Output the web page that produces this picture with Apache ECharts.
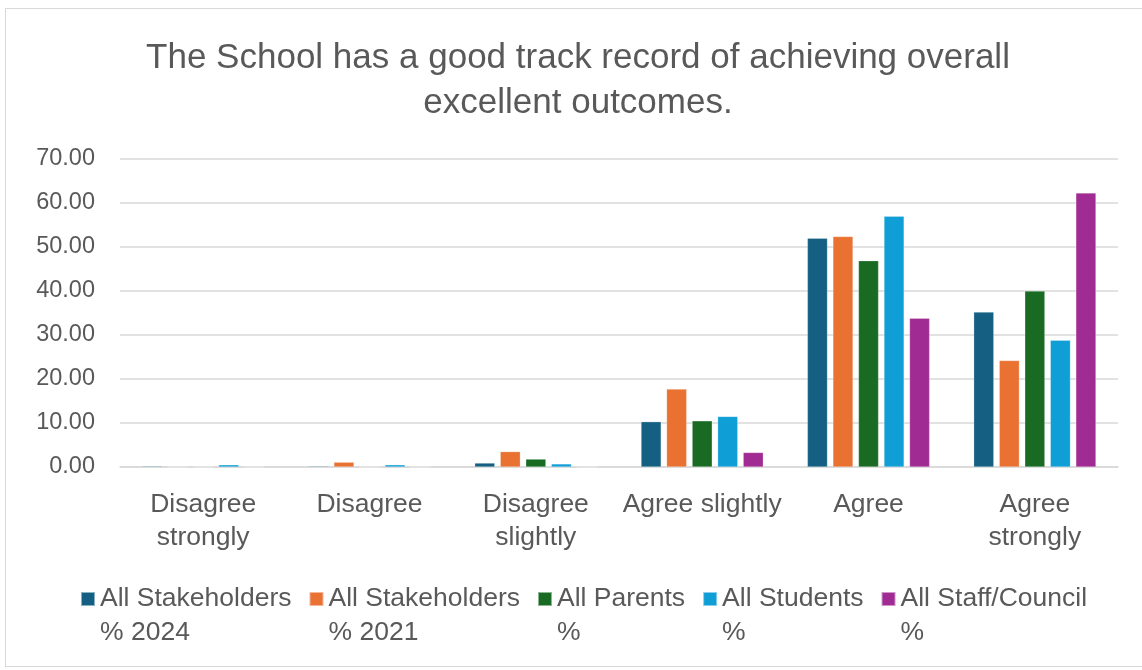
<!DOCTYPE html>
<html>
<head>
<meta charset="utf-8">
<script src="https://cdn.jsdelivr.net/npm/echarts@6/dist/echarts.min.js"></script>
<style>
  html, body { margin: 0; padding: 0; background: #ffffff; }
  #frame { position: absolute; left: 5px; top: 8px; width: 1137px; height: 659px; border: 1.5px solid #d9d9d9; border-right: none; box-sizing: border-box; }
  #chart { position: absolute; left: 0; top: 0; width: 1142px; height: 670px; }
</style>
</head>
<body>
<div id="frame"></div>
<div id="chart"></div>
<script>
// Response categories along the x axis
const categories = ['Disagree\nstrongly', 'Disagree', 'Disagree\nslightly', 'Agree slightly', 'Agree', 'Agree\nstrongly'];

// Share of respondents (%) per group
const stakeholders2024 = [0.2, 0.2, 0.9, 10.3, 52.0, 35.2];
const stakeholders2021 = [0.0, 1.1, 3.5, 17.7, 52.4, 24.2];
const parents         = [0.0, 0.0, 1.8, 10.5, 46.9, 40.0];
const students        = [0.5, 0.5, 0.7, 11.5, 57.0, 28.8];
const staffCouncil    = [0.0, 0.0, 0.0, 3.3, 33.8, 62.3];

const seriesNames = ['All Stakeholders\n% 2024', 'All Stakeholders\n% 2021', 'All Parents\n%', 'All Students\n%', 'All Staff/Council\n%'];
const seriesData = [stakeholders2024, stakeholders2021, parents, students, staffCouncil];
const colors = ['#156082', '#E97132', '#196B24', '#0F9ED5', '#A02B93'];

// Y axis range and ticks
const yMin = 0, yMax = 70, yStep = 10;

const font = "'Liberation Sans', Arial, sans-serif";
const textColor = '#595959';
const gridColor = '#d9d9d9';

// Legend swatch: a 14px square at the top of a two-line-tall item box
// (the hairline speck at the bottom only stretches the path bounds)
const swatch = 'path://M0,0h14v14h-14z M0,47.99h0.01v0.01h-0.01z';

const chart = echarts.init(document.getElementById('chart'), null, { renderer: 'canvas' });

chart.setOption({
  animation: false,
  color: colors,
  title: {
    text: 'The School has a good track record of achieving overall\nexcellent outcomes.',
    left: 573,
    top: 31,
    textAlign: 'center',
    textStyle: { fontFamily: font, fontSize: 35, fontWeight: 'normal', color: textColor, lineHeight: 45 }
  },
  legend: {
    left: 75,
    top: 577,
    itemWidth: 14,
    itemHeight: 48,
    itemGap: 17,
    icon: swatch,
    textStyle: { fontFamily: font, fontSize: 26.5, color: textColor, lineHeight: 34 },
    data: seriesNames
  },
  grid: { left: 120, right: 24, top: 159, bottom: 203, containLabel: false },
  xAxis: {
    type: 'category',
    data: categories,
    axisLine: { lineStyle: { color: gridColor, width: 1.5 } },
    axisTick: { show: false },
    axisLabel: { fontFamily: font, fontSize: 26.5, color: textColor, lineHeight: 33, margin: 21, interval: 0 }
  },
  yAxis: {
    type: 'value',
    min: yMin,
    max: yMax,
    interval: yStep,
    axisLine: { show: false },
    axisTick: { show: false },
    axisLabel: { fontFamily: font, fontSize: 23.5, color: textColor, margin: 25, formatter: v => v.toFixed(2) },
    splitLine: { lineStyle: { color: gridColor, width: 1.5 } }
  },
  series: seriesData.map((d, i) => ({
    name: seriesNames[i],
    type: 'bar',
    data: d,
    barGap: '27%',
    barCategoryGap: '26.5%',
    itemStyle: { color: colors[i], borderColor: 'rgba(255,255,255,0.5)', borderWidth: 0.5 }
  }))
});
</script>
</body>
</html>
